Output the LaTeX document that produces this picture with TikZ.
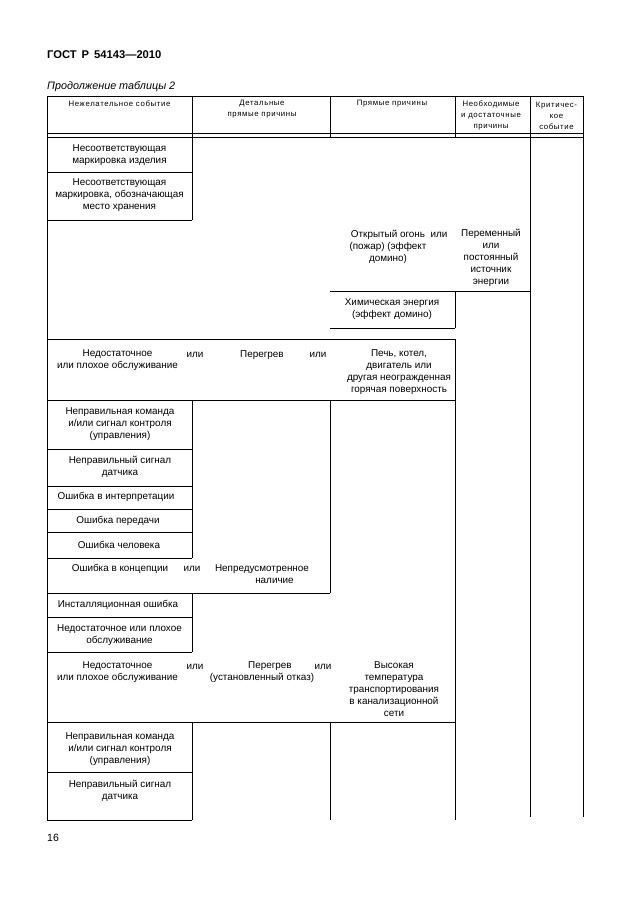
\documentclass[tikz,border=0pt]{standalone}
\usepackage{fontspec}
\setmainfont{Liberation Sans}
\newfontfamily\hdrfont[LetterSpace=8]{Liberation Sans}
\newfontfamily\titlefont[WordSpace=1.6]{Liberation Sans}
\begin{document}
\begin{tikzpicture}[x=1pt,y=-1pt,
  rule/.style={line width=1pt},
  txt/.style={inner sep=0pt, align=center, font=\fontsize{9.9}{12}\selectfont},
  hdr/.style={inner sep=0pt, align=center, font=\hdrfont\fontsize{7.8}{11}\selectfont}]
\fill[white] (0,0) rectangle (630,913);
\useasboundingbox (0,0) rectangle (630,913);
% title
\node[anchor=west, inner sep=0pt, font=\titlefont\fontsize{11.2}{13}\selectfont\bfseries] (title) at (47,55) {ГОСТ Р 54143—2010};
\node[anchor=west, inner sep=0pt, font=\fontsize{10.8}{13}\selectfont\itshape] (sub) at (47,87) {Продолжение таблицы 2};
% header frame
\draw[rule] (47,96) -- (583,96);
\draw[rule] (47,133.5) -- (583,133.5);
\draw[rule] (47,137) -- (583,137);
\foreach \x in {192,330,455} \draw[rule] (\x,96) -- (\x,137);
\draw[rule] (47,96) -- (47,820);
\draw[rule] (530,96) -- (530,817);
\draw[rule] (583,96) -- (583,817);
% upper body
\draw[rule] (47,172) -- (192,172);
\draw[rule] (47,220) -- (192,220);
\draw[rule] (192,137) -- (192,220);
\draw[rule] (330,291) -- (530,291);
\draw[rule] (330,328) -- (455,328);
\draw[rule] (455,291) -- (455,328);
\draw[rule] (47,339) -- (455,339);
\draw[rule] (47,400) -- (455,400);
\draw[rule] (455,339) -- (455,820);
% middle body
\draw[rule] (192,400) -- (192,558);
\draw[rule] (330,400) -- (330,593);
\foreach \y in {449,486,509,532,558} \draw[rule] (47,\y) -- (192,\y);
\draw[rule] (47,593) -- (330,593);
\draw[rule] (192,593) -- (192,652);
\draw[rule] (47,617) -- (192,617);
\draw[rule] (47,652) -- (192,652);
% lower body
\draw[rule] (47,722) -- (455,722);
\draw[rule] (192,722) -- (192,820);
\draw[rule] (330,722) -- (330,820);
\draw[rule] (47,772) -- (192,772);
\draw[rule] (47,820) -- (192,820);
% header text
\node[hdr] (hA) at (119.5,104) {Нежелательное событие};
\node[hdr] (hB) at (262,109.5) {Детальные\\прямые причины};
\node[hdr] (hC) at (392,104) {Прямые причины};
\node[hdr] (hD) at (491,115.5) {Необходимые\\и достаточные\\причины};
\node[hdr] (hE) at (556.5,115.5) {Критичес-\\кое\\событие};
% body text
\node[txt] (b1) at (119.5,155) {Несоответствующая\\маркировка изделия};
\node[txt] (b2) at (119.5,195) {Несоответствующая\\маркировка, обозначающая\\место хранения};
\node[txt] (b3) at (388,246.5) {Открытый огонь\\(пожар) (эффект\\домино)};
\node[txt] (b3or) at (439,235) {или};
\node[txt] (b4) at (491,258) {Переменный\\или\\постоянный\\источник\\энергии};
\node[txt] (b5) at (392,309.5) {Химическая энергия\\(эффект домино)};
\node[txt] (b6) at (117.5,360.5) {Недостаточное\\или плохое обслуживание};
\node[txt] (b6a) at (195,355) {или};
\node[txt] (b6b) at (262,355) {Перегрев};
\node[txt] (b6c) at (318,355) {или};
\node[txt] (b6d) at (399,372) {Печь, котел,\\двигатель или\\другая неогражденная\\горячая поверхность};
\node[txt] (c1) at (120,424.5) {Неправильная команда\\и/или сигнал контроля\\(управления)};
\node[txt] (c2) at (120,466.5) {Неправильный сигнал\\датчика};
\node[txt] (c3) at (116,497) {Ошибка в интерпретации};
\node[txt] (c4) at (118,521) {Ошибка передачи};
\node[txt] (c5) at (119,545) {Ошибка человека};
\node[txt] (c6) at (120,568.5) {Ошибка в концепции};
\node[txt] (c6a) at (192,568.5) {или};
\node[txt] (c6b) at (262,574.5) {Непредусмотренное\\\hspace*{25pt}наличие};
\node[txt] (d1) at (118,605) {Инсталляционная ошибка};
\node[txt] (d2) at (119.5,635.5) {Недостаточное или плохое\\обслуживание};
\node[txt] (d3) at (117.5,672.5) {Недостаточное\\или плохое обслуживание};
\node[txt] (d3a) at (195,667) {или};
\node[txt] (d3b) at (262,672.5) {\hspace*{16pt}Перегрев\\(установленный отказ)};
\node[txt] (d3c) at (323,667) {или};
\node[txt] (d3d) at (394,689) {Высокая\\температура\\транспортирования\\в канализационной\\сети};
\node[txt] (e1) at (120,749) {Неправильная команда\\и/или сигнал контроля\\(управления)};
\node[txt] (e2) at (120,791) {Неправильный сигнал\\датчика};
\node[anchor=west, inner sep=0pt, font=\fontsize{10.5}{12}\selectfont] (pg) at (47,838) {16};
\end{tikzpicture}
\end{document}
